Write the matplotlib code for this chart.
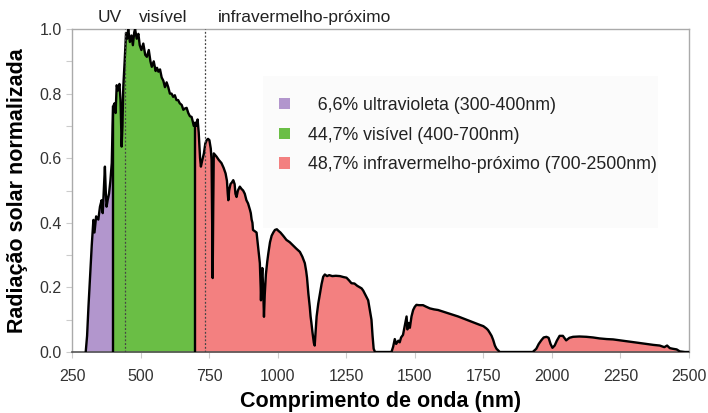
import numpy as np
import matplotlib
matplotlib.use("Agg")
import matplotlib.pyplot as plt
import matplotlib.transforms as mtransforms
from matplotlib.patches import Patch, Rectangle

plt.rcParams['font.family'] = ['Liberation Sans', 'DejaVu Sans']

# espectro solar normalizado (comprimento de onda em nm, valor relativo)
wavelength = [
    300, 305, 310, 316, 322, 328, 332, 338, 346, 352, 358, 362, 366, 370, 373, 376, 380, 385, 390, 395,
    398, 400, 405, 409, 413, 418, 423, 427, 431, 434, 437, 442, 447, 451, 455, 461, 467, 472, 477, 480,
    486, 492, 497, 503, 510, 517, 523, 530, 536, 541, 548, 555, 560, 565, 571, 577, 583, 589, 595, 601,
    607, 613, 619, 625, 631, 637, 643, 650, 656, 662, 668, 674, 680, 686, 690, 694, 700, 704, 708, 712,
    717, 720, 724, 731, 736, 741, 746, 751, 756, 759, 761, 763, 765, 767, 772, 777, 785, 795, 803, 810,
    815, 818, 820, 823, 828, 833, 838, 843, 846, 850, 855, 862, 868, 874, 880, 886, 892, 899, 902, 905,
    908, 910, 915, 923, 928, 932, 935, 938, 939, 941, 944, 947, 950, 953, 957, 962, 966, 972, 978, 984,
    990, 997, 1003, 1010, 1020, 1032, 1044, 1056, 1068, 1081, 1090, 1099, 1104, 1107, 1112, 1117, 1120,
    1123, 1127, 1132, 1135, 1138, 1142, 1148, 1154, 1160, 1166, 1172, 1180, 1188, 1199, 1212, 1227, 1240,
    1251, 1260, 1269, 1280, 1290, 1300, 1306, 1312, 1318, 1324, 1330, 1336, 1342, 1346, 1350, 1355, 1415,
    1421, 1427, 1432, 1440, 1445, 1450, 1457, 1463, 1470, 1473, 1478, 1482, 1488, 1494, 1500, 1506, 1515,
    1530, 1542, 1555, 1570, 1585, 1603, 1620, 1640, 1658, 1676, 1695, 1713, 1725, 1737, 1750, 1761, 1767,
    1773, 1780, 1786, 1792, 1798, 1810, 1930, 1943, 1952, 1962, 1970, 1980, 1988, 1995, 2002, 2010, 2018,
    2028, 2040, 2052, 2064, 2077, 2100, 2126, 2150, 2174, 2200, 2223, 2250, 2283, 2310, 2344, 2370, 2393,
    2410, 2420, 2430, 2441, 2455, 2466, 2485, 2500,
]
radiation = [
    0.0, 0.05, 0.14, 0.233, 0.33, 0.409, 0.37, 0.42, 0.41, 0.45, 0.47, 0.43, 0.50, 0.574, 0.50, 0.45, 0.47, 0.49, 0.53, 0.585,
    0.70, 0.76, 0.77, 0.74, 0.826, 0.81, 0.83, 0.78, 0.636, 0.70, 0.82, 0.90, 0.987, 0.97, 1.0, 0.96, 0.98, 0.95, 0.99, 1.0,
    0.97, 0.985, 0.95, 0.935, 0.955, 0.92, 0.914, 0.935, 0.90, 0.883, 0.90, 0.87, 0.88, 0.868, 0.875, 0.85, 0.84, 0.82, 0.835, 0.82,
    0.80, 0.80, 0.79, 0.795, 0.78, 0.78, 0.77, 0.765, 0.75, 0.754, 0.756, 0.74, 0.73, 0.728, 0.715, 0.70, 0.71, 0.70, 0.72, 0.68,
    0.60, 0.574, 0.59, 0.615, 0.645, 0.656, 0.66, 0.656, 0.63, 0.594, 0.40, 0.229, 0.45, 0.615, 0.61, 0.605, 0.595, 0.585, 0.57, 0.553,
    0.53, 0.49, 0.47, 0.50, 0.52, 0.525, 0.532, 0.52, 0.49, 0.48, 0.50, 0.512, 0.505, 0.50, 0.49, 0.47, 0.46, 0.44, 0.43, 0.41,
    0.40, 0.378, 0.375, 0.37, 0.33, 0.30, 0.275, 0.20, 0.16, 0.22, 0.26, 0.20, 0.109, 0.18, 0.24, 0.28, 0.306, 0.34, 0.36, 0.37,
    0.378, 0.38, 0.375, 0.37, 0.36, 0.347, 0.34, 0.33, 0.32, 0.31, 0.295, 0.275, 0.25, 0.23, 0.18, 0.14, 0.11,
    0.09, 0.06, 0.028, 0.02, 0.06, 0.11, 0.15, 0.18, 0.21, 0.233, 0.24, 0.235, 0.238, 0.235, 0.236, 0.235, 0.232,
    0.23, 0.222, 0.213, 0.212, 0.205, 0.2, 0.197, 0.19, 0.18, 0.17, 0.16, 0.13, 0.10, 0.05, 0.01, 0.0, 0.0,
    0.016, 0.04, 0.025, 0.035, 0.03, 0.045, 0.053, 0.08, 0.11, 0.07, 0.09, 0.075, 0.11, 0.13, 0.14, 0.146, 0.145,
    0.145, 0.14, 0.135, 0.132, 0.13, 0.125, 0.12, 0.115, 0.11, 0.104, 0.098, 0.092, 0.088, 0.084, 0.08, 0.073, 0.068,
    0.06, 0.05, 0.037, 0.02, 0.01, 0.0, 0.0, 0.01, 0.025, 0.037, 0.045, 0.047, 0.044, 0.025, 0.013, 0.02, 0.035,
    0.05, 0.05, 0.036, 0.044, 0.047, 0.048, 0.047, 0.045, 0.042, 0.04, 0.039, 0.036, 0.032, 0.029, 0.025, 0.022, 0.02,
    0.015, 0.02, 0.012, 0.01, 0.008, 0.002, 0.0, 0.0,
]

bands = [(300, 400), (400, 700), (700, 2500)]
band_colors = ['#b296cd', '#6abe45', '#f38080']
band_labels = ['  6,6% ultravioleta (300-400nm)',
               '44,7% visível (400-700nm)',
               '48,7% infravermelho-próximo (700-2500nm)']
region_names = ['UV', 'visível', 'infravermelho-próximo']
region_pos = [388, 582, 1099]
divider_pos = [443, 735]

x_ticks = [250, 500, 750, 1000, 1250, 1500, 1750, 2000, 2250, 2500]
y_ticks = [0.0, 0.2, 0.4, 0.6, 0.8, 1.0]

wl = np.array(wavelength)
rad = np.array(radiation)

fig = plt.figure(figsize=(7.08, 4.13), dpi=100)
ax = fig.add_axes([0.1017, 0.1477, 0.8715, 0.782])

# fundo cinza bem claro atrás da legenda
ax.add_patch(Rectangle((0.31, 0.385), 0.64, 0.47, transform=ax.transAxes,
                       facecolor='#fbfbfb', edgecolor='none', zorder=0))

for (lo, hi), col in zip(bands, band_colors):
    m = (wl >= lo) & (wl <= hi)
    ax.fill_between(wl[m], 0, rad[m], color=col, lw=0, zorder=1)

ax.plot(wl, rad, color='black', lw=1.7, zorder=3)
for b in (400, 700):
    ax.plot([b, b], [0, rad[wl == b][0]], color='black', lw=1.7, zorder=3)

for d in divider_pos:
    ax.axvline(d, color='#444444', lw=0.9, ls=(0, (1.5, 1.5)), zorder=4)

trans = mtransforms.blended_transform_factory(ax.transData, ax.transAxes)
for name, pos in zip(region_names, region_pos):
    ax.text(pos, 1.037, name, transform=trans, ha='center', va='center',
            fontsize=12.5, color='#222222')

handles = [Patch(facecolor=c, edgecolor='none') for c in band_colors]
ax.legend(handles, band_labels, loc='upper left', bbox_to_anchor=(0.31, 0.84),
          frameon=False, fontsize=12.8, handlelength=0.6, handleheight=0.6,
          handletextpad=1.0, labelspacing=0.72, labelcolor='#222222')

ax.set_xlim(250, 2500)
ax.set_ylim(0, 1.0)
ax.set_xticks(x_ticks)
ax.set_xticklabels([str(t) for t in x_ticks])
ax.set_yticks(y_ticks)
ax.set_yticklabels(['%.1f' % t for t in y_ticks])
ax.set_yticks(np.arange(0.1, 1.0, 0.2), minor=True)
ax.tick_params(axis='both', which='both', length=4, width=0.8, color='#cccccc',
               labelsize=11.5, labelcolor='#333333')
ax.tick_params(axis='x', pad=8)

for s in ('left', 'top', 'right'):
    ax.spines[s].set_color('#aaaaaa')
    ax.spines[s].set_linewidth(1.0)
ax.spines['bottom'].set_color('#555555')
ax.spines['bottom'].set_linewidth(1.2)

ax.set_xlabel('Comprimento de onda (nm)', fontsize=15.5, fontweight='bold', labelpad=5)
ax.set_ylabel('Radiação solar normalizada', fontsize=15.5, fontweight='bold', labelpad=8)

fig.savefig('out.png', dpi=100)
